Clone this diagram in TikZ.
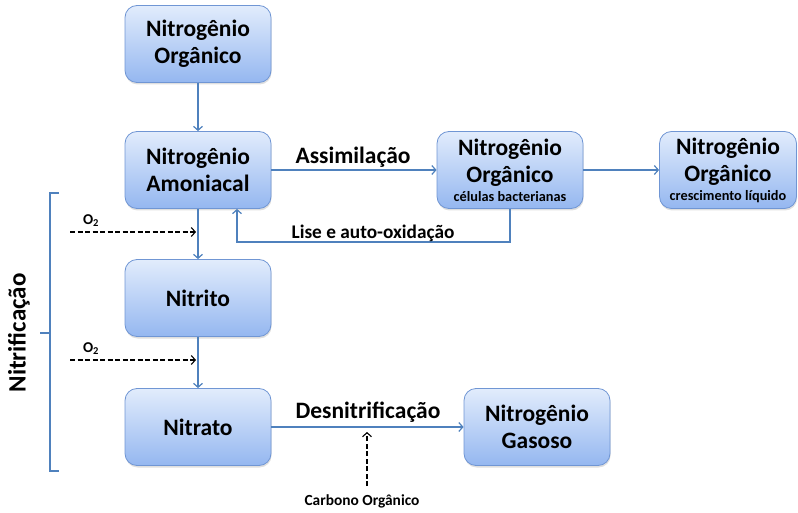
\documentclass[tikz,border=0pt]{standalone}
\usepackage{fontspec}
\setmainfont{Carlito}
\usetikzlibrary{arrows.meta,shadows,calc}
\definecolor{boxtop}{RGB}{226,236,252}
\definecolor{boxbot}{RGB}{148,183,240}
\definecolor{boxline}{RGB}{112,150,212}
\definecolor{flow}{RGB}{79,129,189}
\begin{document}
\begin{tikzpicture}[x=1pt,y=-1pt,
  box/.style={draw=boxline, line width=0.8pt, rounded corners=12pt,
    top color=boxtop, bottom color=boxbot,
    minimum width=146pt, minimum height=77pt, inner sep=2pt,
    align=center, font=\fontsize{23.5}{27}\bfseries\selectfont,
    drop shadow={shadow xshift=0.6pt, shadow yshift=-2pt, opacity=0.25}},
  flowline/.style={draw=flow, line width=1.2pt, -{Straight Barb[length=4pt,width=9pt]}},
  feed/.style={draw=black, line width=1.1pt, dash pattern=on 5pt off 2.5pt,
    -{Straight Barb[length=4pt,width=9pt]}},
  lbl/.style={font=\fontsize{23.5}{26}\bfseries\selectfont, inner sep=0pt},
  small/.style={font=\fontsize{15}{17}\bfseries\selectfont, inner sep=0pt}]
\useasboundingbox (0,0) rectangle (798,513);

% process boxes
\node[box] (org)   at (198,44)  {Nitrogênio\\Orgânico};
\node[box] (amon)  at (198,170) {Nitrogênio\\Amoniacal};
\node[box] (nitri) at (198,298) {Nitrito};
\node[box] (nitra) at (198,427) {Nitrato};
\node[box] (cel)   at (510,170) {Nitrogênio\\Orgânico\\[-8pt]{\fontsize{14.3}{16}\bfseries\selectfont células bacterianas}};
\node[box, minimum width=137pt] (cresc) at (728,170) {Nitrogênio\\Orgânico\\[-8pt]{\fontsize{14.3}{16}\bfseries\selectfont crescimento líquido}};
\node[box] (gas)   at (537,427) {Nitrogênio\\Gasoso};

% main flow
\draw[flowline] (org) -- (amon);
\draw[flowline] (amon) -- (nitri);
\draw[flowline] (nitri) -- (nitra);
\draw[flowline] (amon) -- (cel);
\draw[flowline] (cel) -- (cresc);
\draw[flowline] (nitra) -- (gas);

% lysis return loop
\coordinate (lb) at (237,242);
\draw[flowline] (cel.south) |- (lb) -- (amon.south -| lb);

% flow labels
\node[lbl] (assim) at (353,157) {Assimilação};
\node[lbl] (desn)  at (368,412) {Desnitrificação};
\node[font=\fontsize{19.3}{21}\bfseries\selectfont, inner sep=0pt] (lise) at (373,233) {Lise e auto-oxidação};

% oxygen supply
\coordinate (o2as) at (70,232);
\coordinate (o2ae) at (196,232);
\coordinate (o2bs) at (70,360);
\coordinate (o2be) at (196,360);
\draw[feed] (o2as) -- (o2ae);
\draw[feed] (o2bs) -- (o2be);
\node[small] (o2a) at (91,221) {O\textsubscript{2}};
\node[small] (o2b) at (91,349) {O\textsubscript{2}};

% organic carbon supply
\node[font=\fontsize{15.4}{17}\bfseries\selectfont, inner sep=0pt] (carb) at (362,501) {Carbono Orgânico};
\coordinate (carbtip) at (367,432);
\draw[feed] ($(carb.north)+(5,-8)$) coordinate (carbs) -- (carbtip);

% nitrification brace
\draw[flow, line width=1.5pt] (59,193) -- (50,193) -- (50,333) -- (40,333);
\draw[flow, line width=1.5pt] (50,333) -- (50,471) -- (59,471);
\node[rotate=90, font=\fontsize{25}{28}\bfseries\selectfont, inner sep=0pt] (nitrif) at (19,333) {Nitrificação};
\end{tikzpicture}
\end{document}
